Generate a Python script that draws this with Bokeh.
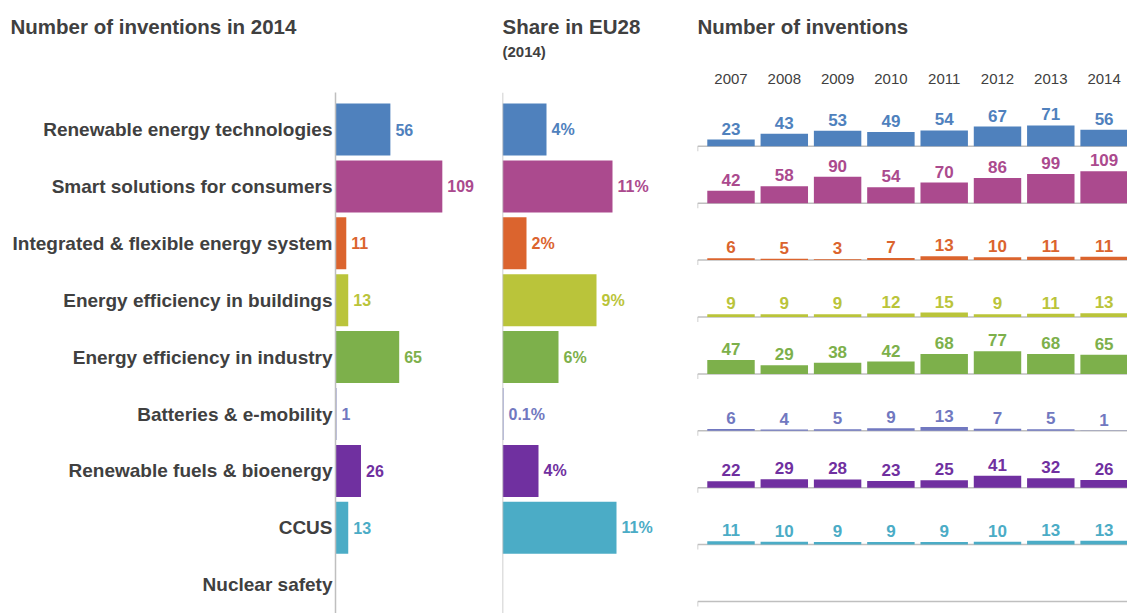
from bokeh.plotting import figure
from bokeh.models import ColumnDataSource, Range1d, FixedTicker, Span, Title
from bokeh.layouts import row
from bokeh.core.properties import value
from bokeh.embed import file_html
from bokeh.resources import INLINE

# ---------------- data ----------------
categories = [
    "Renewable energy technologies",
    "Smart solutions for consumers",
    "Integrated & flexible energy system",
    "Energy efficiency in buildings",
    "Energy efficiency in industry",
    "Batteries & e-mobility",
    "Renewable fuels & bioenergy",
    "CCUS",
    "Nuclear safety",
]
inventions_2014 = [56, 109, 11, 13, 65, 1, 26, 13, None]
share_2014 = [4.4, 11.0, 2.4, 9.4, 5.6, 0.1, 3.6, 11.4, None]  # % of EU28

years = [2007, 2008, 2009, 2010, 2011, 2012, 2013, 2014]
renewable = [23, 43, 53, 49, 54, 67, 71, 56]
smart = [42, 58, 90, 54, 70, 86, 99, 109]
integrated = [6, 5, 3, 7, 13, 10, 11, 11]
buildings = [9, 9, 9, 12, 15, 9, 11, 13]
industry = [47, 29, 38, 42, 68, 77, 68, 65]
batteries = [6, 4, 5, 9, 13, 7, 5, 1]
fuels = [22, 29, 28, 23, 25, 41, 32, 26]
ccus = [11, 10, 9, 9, 9, 10, 13, 13]
nuclear = []

colors = ["#4F81BD", "#AB4A8E", "#DB642E", "#BAC43A", "#7DB04B",
          "#7178C0", "#7030A0", "#4BACC6", "#404040"]

# ---------------- styling constants ----------------
FONT = "Liberation Sans"
DARK = "#404040"
LINE = "#BFBFBF"
H = 613
TOP = 92
ROW_PX = 56.9
FRAME_H = H - TOP
TOP_PAD = 37 / ROW_PX
Y_START = FRAME_H / ROW_PX - TOP_PAD
Y_END = -TOP_PAD
BAR_H = 52 / ROW_PX
BASE_OFF = 16.8 / ROW_PX
K = 0.294 / ROW_PX  # rows per invention in the small multiples


def make_fig(width, xr, left, **kw):
    p = figure(width=width, height=H, x_range=xr, y_range=Range1d(Y_START, Y_END),
               toolbar_location=None, output_backend="svg",
               min_border_left=left, min_border_right=0, min_border_top=TOP,
               min_border_bottom=0, **kw)
    p.xgrid.visible = False
    p.ygrid.visible = False
    p.outline_line_color = None
    p.background_fill_color = "white"
    p.border_fill_color = "white"
    return p


def style_title(t, size="20.5px"):
    t.text_font = FONT
    t.text_font_size = size
    t.text_font_style = "bold"
    t.text_color = DARK
    t.align = "left"


def spacer(standoff):
    t = Title(text=" ", text_font_size="1px", standoff=standoff)
    return t


idx = [i for i, v in enumerate(inventions_2014) if v is not None]

# ---------------- panel 1: number of inventions in 2014 ----------------
p1 = make_fig(490, Range1d(0, 155 / 0.98), 335, x_axis_location=None)
src1 = ColumnDataSource(dict(
    y=idx,
    v=[inventions_2014[i] for i in idx],
    lab=[str(inventions_2014[i]) for i in idx],
    c=[colors[i] for i in idx],
))
p1.hbar(y="y", left=0, right="v", height=BAR_H, color="c", line_color=None, source=src1)
p1.text(x="v", y="y", text="lab", text_color="c", x_offset=5,
        text_align="left", text_baseline="middle",
        text_font=value(FONT), text_font_size="16px", text_font_style="bold", source=src1)
ya = p1.yaxis[0]
ya.ticker = FixedTicker(ticks=list(range(len(categories))))
ya.major_label_overrides = {i: c for i, c in enumerate(categories)}
ya.major_tick_line_color = None
ya.major_tick_out = 0
ya.major_tick_in = 0
ya.minor_tick_line_color = None
ya.axis_line_color = LINE
ya.axis_line_width = 1.5
ya.major_label_standoff = 3
ya.major_label_text_font = FONT
ya.major_label_text_font_size = "19px"
ya.major_label_text_font_style = "bold"
ya.major_label_text_color = DARK
p1.add_layout(spacer(52), "above")
p1.title.text = "Number of inventions in 2014"
style_title(p1.title)
p1.title.offset = -325
p1.title.standoff = 0

# ---------------- panel 2: share in EU28 ----------------
p2 = make_fig(190, Range1d(0, 17.8), 12, x_axis_location=None, y_axis_location=None)
sidx = [i for i, v in enumerate(share_2014) if v is not None]
src2 = ColumnDataSource(dict(
    y=sidx,
    v=[share_2014[i] for i in sidx],
    lab=[(f"{share_2014[i]:.1f}%" if share_2014[i] < 1 else f"{share_2014[i]:.0f}%") for i in sidx],
    c=[colors[i] for i in sidx],
))
p2.hbar(y="y", left=0, right="v", height=BAR_H, color="c", line_color=None, source=src2)
p2.text(x="v", y="y", text="lab", text_color="c", x_offset=5,
        text_align="left", text_baseline="middle",
        text_font=value(FONT), text_font_size="16px", text_font_style="bold", source=src2)
p2.add_layout(Span(location=0, dimension="height", line_color=LINE, line_width=1.5))
p2.add_layout(spacer(30), "above")
t_sub = Title(text="(2014)")
style_title(t_sub, "15px")
t_sub.standoff = 0
p2.add_layout(t_sub, "above")
t_main = Title(text="Share in EU28")
style_title(t_main)
t_main.standoff = 6
p2.add_layout(t_main, "above")

# ---------------- panel 3: number of inventions by year ----------------
PITCH = 53.3
X0 = 2007 - 33.5 / PITCH
X1 = X0 + 430 / PITCH
p3 = make_fig(447, Range1d(X0, X1), 17, x_axis_location="above", y_axis_location=None)
xa = p3.xaxis[0]
xa.ticker = FixedTicker(ticks=years)
xa.axis_line_color = None
xa.major_tick_line_color = None
xa.minor_tick_line_color = None
xa.major_label_standoff = 3
xa.major_label_text_font = FONT
xa.major_label_text_font_size = "15px"
xa.major_label_text_color = DARK

all_series = [renewable, smart, integrated, buildings, industry, batteries, fuels, ccus, nuclear]
bases = [i + BASE_OFF for i in range(len(categories))]
p3.segment(x0=[X0] * len(bases), x1=[X1] * len(bases), y0=bases, y1=bases,
           line_color=LINE, line_width=1.5)
p3.segment(x0=[X0] * len(bases), x1=[X0] * len(bases), y0=bases,
           y1=[b + 5 / ROW_PX for b in bases], line_color=LINE, line_width=1.5)
for i, s in enumerate(all_series):
    if not s:
        continue
    src = ColumnDataSource(dict(
        x=years,
        b=[bases[i]] * len(s),
        t=[bases[i] - v * K for v in s],
        lab=[str(v) for v in s],
    ))
    p3.vbar(x="x", width=0.89, bottom="b", top="t", color=colors[i], line_color=None, source=src)
    p3.text(x="x", y="t", text="lab", text_color=colors[i], y_offset=-5,
            text_align="center", text_baseline="bottom",
            text_font=value(FONT), text_font_size="17px", text_font_style="bold", source=src)
p3.add_layout(spacer(30), "above")
p3.title.text = "Number of inventions"
style_title(p3.title)
p3.title.standoff = 0

layout = row(p1, p2, p3)
open("out.html", "w").write(file_html(layout, INLINE))
